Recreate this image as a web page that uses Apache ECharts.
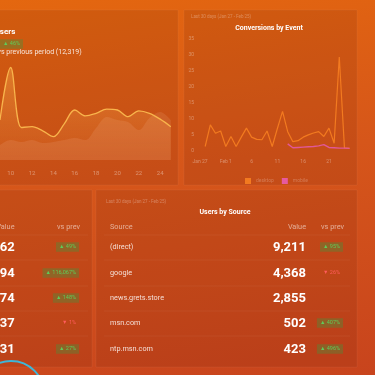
<!DOCTYPE html>
<html>
<head>
<meta charset="utf-8">
<script src="https://cdn.jsdelivr.net/npm/echarts@6/dist/echarts.min.js"></script>
<style>
html, body { margin: 0; padding: 0; }
#chart {
    width: 375px;
    height: 375px;
    background: linear-gradient(172deg, #e4670f 0%, #d6561a 45%, #c8441d 100%);
}
</style>
</head>
<body>
<div id="chart"></div>
<script>
// Users (left top) - days of month
const userDays = ['9', '10', '11', '12', '13', '14', '15', '16', '17', '18', '19', '20', '21', '22', '23', '24', '25']
const usersCurrent = [480, 1110, 390, 400, 350, 280, 430, 600, 530, 560, 610, 600, 520, 590, 560, 490, 400]
const usersPrevious = [180, 240, 216, 240, 204, 216, 240, 264, 240, 384, 516, 480, 456, 360, 504, 576, 480]

// Conversions by Event (right top)
const convDays = ['Jan 27', 'Jan 28', 'Jan 29', 'Jan 30', 'Jan 31', 'Feb 1', 'Feb 2', 'Feb 3', 'Feb 4', 'Feb 5',
    'Feb 6', 'Feb 7', 'Feb 8', 'Feb 9', 'Feb 10', 'Feb 11', 'Feb 12', 'Feb 13', 'Feb 14', 'Feb 15',
    'Feb 16', 'Feb 17', 'Feb 18', 'Feb 19', 'Feb 20', 'Feb 21', 'Feb 22', 'Feb 23', 'Feb 24', 'Feb 25']
const convTickLabels = ['Jan 27', 'Feb 1', '6', '11', '16', '21']
const desktop = ['-', 1.4, 8.1, 5.5, 6.2, 1.4, 4.5, 1.4, 4.3, 7.1, 4.3, 3.6, 3.5, 6.2, 1.4, 7, 12.3, 6, 2.9, 3.2,
    4.3, 5, 5.6, 6, 4.5, 7.1, 2.4, 29.2, 1, 0.8]
const mobile = ['-', '-', '-', '-', '-', '-', '-', '-', '-', '-', '-', '-', '-', '-', '-', '-', '-', 2.2, 1, 1.1,
    1.2, 1.3, 1.4, 1.6, 2, 1.1, 1, 0.9, 0.9, 0.8]

// Users by Source (bottom right)
const sourceNames = ['(direct)', 'google', 'news.grets.store', 'msn.com', 'ntp.msn.com']
const sourceValues = [9211, 4368, 2855, 502, 423]
const sourceChange = [95, -26, null, 407, 496]

// bottom left table (cut off)
const leftValues = [1262, 994, 874, 537, 431]
const leftChange = [49, 116067, 148, -1, 27]

const rowY = [247, 273, 298, 323, 349]
const FONT = 'Roboto, "Noto Sans", sans-serif'

const chart = echarts.init(document.getElementById('chart'))

const txt = (x, y, text, size, fill, opts = {}) => ({
    type: 'text',
    x, y,
    style: Object.assign({
        text, fill,
        fontSize: size,
        fontFamily: FONT,
        fontWeight: opts.bold ? 'bold' : 'normal',
        align: opts.align || 'left',
        verticalAlign: 'middle'
    }, opts.extra || {})
})

const badge = (xRight, y, v) => {
    if (v == null) return null
    const up = v >= 0
    const label = (up ? '▲ ' : '▼ ') + Math.abs(v).toLocaleString('en-US') + '%'
    return txt(xRight, y, label, 5.5, up ? '#5fcc5a' : '#ff5c5c', {
        align: 'right',
        extra: up ? { backgroundColor: 'rgba(70,145,60,0.4)', padding: [2, 3, 1.5, 3] } : { padding: [2, 3, 1.5, 3] }
    })
}

const graphics = []
const panel = (x, y, w, h) => graphics.push({
    type: 'rect', z: -10,
    shape: { x, y, width: w, height: h },
    style: { fill: 'rgba(95,20,10,0.13)', stroke: 'rgba(255,255,255,0.05)', lineWidth: 1 }
})
panel(-10, 10, 188, 175)
panel(184, 10, 173, 175)
panel(-10, 190, 102, 177)
panel(96, 190, 261, 177)

// row separators
const sepY = [235, 260, 286, 311, 336]
sepY.forEach(y => {
    graphics.push({ type: 'line', shape: { x1: 0, y1: y, x2: 88, y2: y }, style: { stroke: 'rgba(255,255,255,0.06)', lineWidth: 1 } })
    graphics.push({ type: 'line', shape: { x1: 104, y1: y, x2: 350, y2: y }, style: { stroke: 'rgba(255,255,255,0.06)', lineWidth: 1 } })
})

// left top texts
graphics.push(txt(-5.5, 32, 'Users', 8, '#ffffff', { bold: true }))
graphics.push(badge(23, 44, 46))
graphics.push(txt(-2.5, 52, 'vs previous period (12,319)', 7, 'rgba(255,255,255,0.85)'))

// right top texts
graphics.push(txt(191, 17, 'Last 30 days (Jan 27 - Feb 25)', 4.5, 'rgba(255,255,255,0.3)'))
graphics.push(txt(269, 28, 'Conversions by Event', 7, '#ffffff', { bold: true, align: 'center' }))

// bottom right table
graphics.push(txt(106, 202, 'Last 30 days (Jan 27 - Feb 25)', 4.5, 'rgba(255,255,255,0.3)'))
graphics.push(txt(225, 212, 'Users by Source', 7, '#ffffff', { bold: true, align: 'center' }))
graphics.push(txt(110, 227, 'Source', 7.3, 'rgba(255,255,255,0.55)'))
graphics.push(txt(306, 227, 'Value', 7.3, 'rgba(255,255,255,0.55)', { align: 'right' }))
graphics.push(txt(344, 227, 'vs prev', 7.3, 'rgba(255,255,255,0.55)', { align: 'right' }))
sourceNames.forEach((name, i) => {
    graphics.push(txt(110, rowY[i], name, 7.3, 'rgba(255,255,255,0.82)'))
    graphics.push(txt(306, rowY[i] + 0.5, sourceValues[i].toLocaleString('en-US'), 13, '#ffffff', { bold: true, align: 'right' }))
    const b = badge(343, rowY[i], sourceChange[i])
    if (b) graphics.push(b)
})

// bottom left table
graphics.push(txt(14.5, 227, 'Value', 7.3, 'rgba(255,255,255,0.55)', { align: 'right' }))
graphics.push(txt(80, 227, 'vs prev', 7.3, 'rgba(255,255,255,0.55)', { align: 'right' }))
leftValues.forEach((v, i) => {
    graphics.push(txt(14.7, rowY[i] + 0.5, v.toLocaleString('en-US'), 13, '#ffffff', { bold: true, align: 'right' }))
    graphics.push(badge(79, rowY[i], leftChange[i]))
})

// cyan circle bottom left
graphics.push({
    type: 'circle',
    shape: { cx: 11, cy: 394, r: 33 },
    style: { fill: 'none', stroke: '#3db6d8', lineWidth: 2 }
})

const option = {
    animation: false,
    textStyle: { fontFamily: FONT },
    graphic: graphics,
    legend: {
        data: ['desktop', 'mobile'],
        left: 240,
        top: 173,
        icon: 'rect',
        itemWidth: 6,
        itemHeight: 6,
        itemGap: 8,
        textStyle: { fontSize: 5, color: 'rgba(255,255,255,0.25)' }
    },
    grid: [
        { left: -2.85, right: 204.2, top: 60, bottom: 215 },
        { left: 200, right: 25.4, top: 38.3, bottom: 224 }
    ],
    xAxis: [
        {
            gridIndex: 0,
            type: 'category',
            boundaryGap: false,
            data: userDays,
            axisLine: { show: false },
            axisTick: { show: false },
            axisLabel: {
                interval: (i) => i % 2 === 1,
                color: 'rgba(255,255,255,0.38)',
                fontSize: 6,
                margin: 10
            }
        },
        {
            gridIndex: 1,
            type: 'category',
            boundaryGap: false,
            data: convDays,
            axisLine: { show: false },
            axisTick: { show: false },
            axisLabel: {
                interval: 4,
                formatter: (v, i) => convTickLabels[i / 5],
                color: 'rgba(255,255,255,0.35)',
                fontSize: 5,
                margin: 8
            }
        }
    ],
    yAxis: [
        { gridIndex: 0, type: 'value', min: 0, max: 1200, show: false },
        {
            gridIndex: 1,
            type: 'value',
            min: 0,
            max: 35,
            interval: 5,
            axisLine: { show: false },
            axisTick: { show: false },
            splitLine: { show: false },
            axisLabel: { color: 'rgba(255,255,255,0.35)', fontSize: 5, margin: 6 }
        }
    ],
    series: [
        {
            name: 'Users',
            type: 'line',
            xAxisIndex: 0,
            yAxisIndex: 0,
            data: usersCurrent,
            smooth: 0.35,
            symbol: 'none',
            lineStyle: { color: '#f8b44c', width: 1.3 },
            areaStyle: {
                color: new echarts.graphic.LinearGradient(0, 0, 0, 1, [
                    { offset: 0, color: 'rgba(244,170,75,0.62)' },
                    { offset: 1, color: 'rgba(244,155,75,0.12)' }
                ])
            }
        },
        {
            name: 'Previous',
            type: 'line',
            xAxisIndex: 0,
            yAxisIndex: 0,
            data: usersPrevious,
            smooth: 0.35,
            symbol: 'none',
            lineStyle: { width: 0 },
            areaStyle: { color: 'rgba(255,210,190,0.17)' }
        },
        {
            name: 'desktop',
            type: 'line',
            xAxisIndex: 1,
            yAxisIndex: 1,
            data: desktop,
            symbol: 'none',
            color: '#f27a20',
            lineStyle: { color: '#f27a20', width: 1.2 }
        },
        {
            name: 'mobile',
            type: 'line',
            xAxisIndex: 1,
            yAxisIndex: 1,
            data: mobile,
            symbol: 'none',
            color: '#e65a9e',
            lineStyle: { color: '#e05898', width: 1.4 }
        }
    ]
}

chart.setOption(option)
</script>
</body>
</html>
